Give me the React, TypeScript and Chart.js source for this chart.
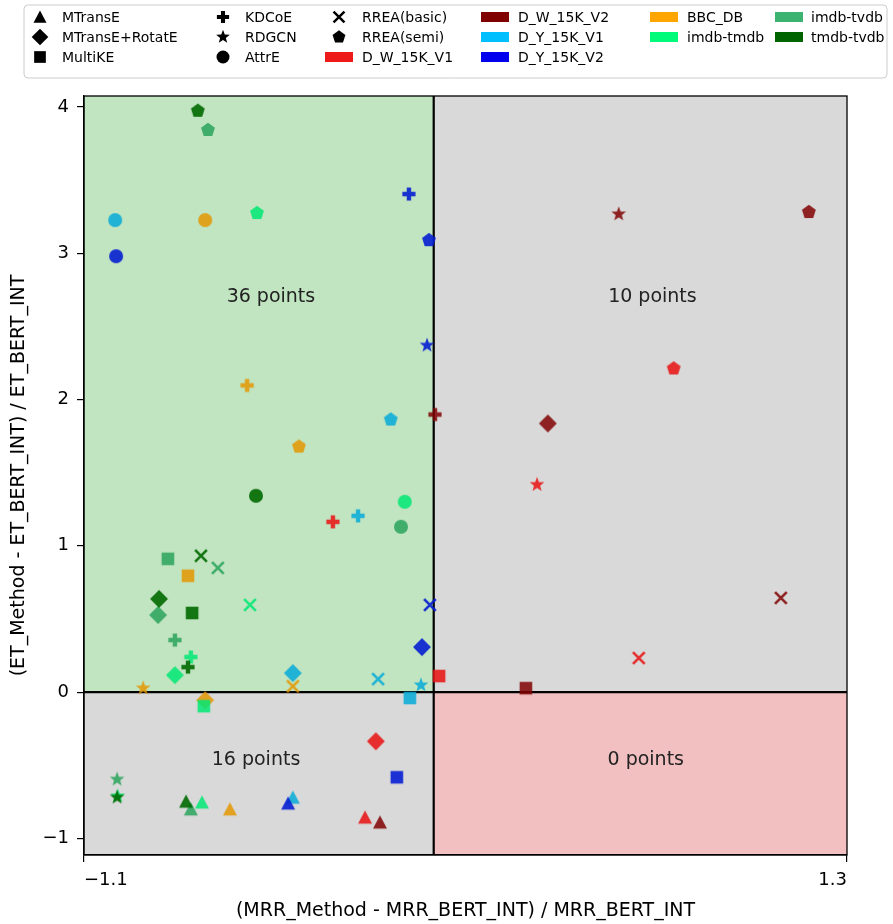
import { useEffect, useRef } from 'react';
import { Chart, registerables } from 'chart.js';

Chart.register(...registerables);

const FONT = 'DejaVu Sans';

const datasetNames = ['D_W_15K_V1', 'D_W_15K_V2', 'D_Y_15K_V1', 'D_Y_15K_V2', 'BBC_DB', 'imdb-tmdb', 'imdb-tvdb', 'tmdb-tvdb'];
const legendColors = ['#ee1a1a', '#800000', '#00bfff', '#0000ee', '#ffa500', '#00fa7a', '#3cb371', '#006400'];
const pointColors = [
	'rgba(232, 22, 22, 0.88)',
	'rgba(128, 0, 0, 0.85)',
	'rgba(10, 172, 215, 0.88)',
	'rgba(5, 30, 210, 0.9)',
	'rgba(228, 150, 0, 0.85)',
	'rgba(0, 232, 115, 0.85)',
	'rgba(45, 165, 95, 0.88)',
	'rgba(0, 105, 0, 0.9)',
];

const methodNames = ['MTransE', 'MTransE+RotatE', 'MultiKE', 'KDCoE', 'RDGCN', 'AttrE', 'RREA(basic)', 'RREA(semi)'];
const methodShapes = ['triangle', 'diamond', 'square', 'plus', 'star', 'circle', 'x', 'pentagon'];

// values per dataset, same order as datasetNames (null = no result)
const mtranseX = [-0.216, -0.169, -0.443, -0.458, -0.641, -0.729, -0.764, -0.779];
const mtranseY = [-0.856, -0.89, -0.72, -0.76, -0.8, -0.753, -0.8, -0.747];
const rotateX = [-0.182, 0.359, -0.443, -0.037, -0.719, -0.814, -0.867, -0.864];
const rotateY = [-0.336, 1.836, 0.13, 0.308, -0.055, 0.116, 0.527, 0.637];
const multikeX = [0.017, 0.29, -0.075, -0.116, -0.773, -0.723, -0.836, -0.76];
const multikeY = [0.11, 0.027, -0.04, -0.582, 0.795, -0.096, 0.911, 0.541];
const kdcoeX = [-0.317, 0.004, -0.238, -0.078, -0.587, -0.764, -0.814, -0.773];
const kdcoeY = [1.164, 1.897, 1.205, 3.404, 2.096, 0.24, 0.356, 0.171];
const rdgcnX = [0.325, 0.582, -0.04, -0.021, -0.914, -0.994, -0.996, -0.996];
const rdgcnY = [1.418, 3.267, 0.048, 2.37, 0.027, -0.71, -0.596, -0.719];
const attreX = [null, null, -1.002, -0.999, -0.719, -0.091, -0.103, -0.559];
const attreY = [null, null, 3.226, 2.979, 3.226, 1.301, 1.13, 1.342];
const rreaBasicX = [0.645, 1.092, -0.175, -0.012, -0.443, -0.578, -0.679, -0.732];
const rreaBasicY = [0.233, 0.644, 0.089, 0.596, 0.04, 0.596, 0.849, 0.932];
const rreaSemiX = [0.755, 1.18, -0.135, -0.015, -0.424, -0.556, -0.71, -0.742];
const rreaSemiY = [2.212, 3.281, 1.863, 3.089, 1.678, 3.274, 3.842, 3.973];

const seriesX = [mtranseX, rotateX, multikeX, kdcoeX, rdgcnX, attreX, rreaBasicX, rreaSemiX];
const seriesY = [mtranseY, rotateY, multikeY, kdcoeY, rdgcnY, attreY, rreaBasicY, rreaSemiY];

const xTicks = [-1.1, 1.3];
const yTicks = [-1, 0, 1, 2, 3, 4];

const quadrantText = ['36 points', '10 points', '16 points', '0 points'];
const quadrantX = [-0.512, 0.688, -0.559, 0.667];
const quadrantY = [2.7, 2.7, -0.465, -0.465];

const xTitle = '(MRR_Method - MRR_BERT_INT) / MRR_BERT_INT';
const yTitle = '(ET_Method - ET_BERT_INT) / ET_BERT_INT';

const fmt = (v: number) => (v < 0 ? '\u2212' + Math.abs(v) : String(v));

function drawShape(ctx: CanvasRenderingContext2D, shape: string, cx: number, cy: number, s: number, color: string) {
	const r = s / 2;
	ctx.fillStyle = color;
	ctx.strokeStyle = color;
	ctx.beginPath();
	if (shape === 'triangle') {
		ctx.moveTo(cx, cy - r);
		ctx.lineTo(cx + r, cy + r * 0.9);
		ctx.lineTo(cx - r, cy + r * 0.9);
		ctx.closePath();
		ctx.fill();
	} else if (shape === 'diamond') {
		const d = s * 0.64;
		ctx.moveTo(cx, cy - d);
		ctx.lineTo(cx + d, cy);
		ctx.lineTo(cx, cy + d);
		ctx.lineTo(cx - d, cy);
		ctx.closePath();
		ctx.fill();
	} else if (shape === 'square') {
		const h = s * 0.45;
		ctx.rect(cx - h, cy - h, 2 * h, 2 * h);
		ctx.fill();
	} else if (shape === 'plus') {
		const h = s * 0.47;
		const t = h / 3;
		ctx.rect(cx - h, cy - t, 2 * h, 2 * t);
		ctx.rect(cx - t, cy - h, 2 * t, 2 * h);
		ctx.fill('nonzero');
	} else if (shape === 'star') {
		const ro = s * 0.55;
		const ri = ro * 0.42;
		for (let i = 0; i < 10; i++) {
			const a = -Math.PI / 2 + (i * Math.PI) / 5;
			const rr = i % 2 === 0 ? ro : ri;
			const px = cx + rr * Math.cos(a);
			const py = cy + rr * Math.sin(a);
			if (i === 0) ctx.moveTo(px, py);
			else ctx.lineTo(px, py);
		}
		ctx.closePath();
		ctx.fill();
	} else if (shape === 'circle') {
		ctx.arc(cx, cy, r, 0, Math.PI * 2);
		ctx.fill();
	} else if (shape === 'x') {
		const h = s * 0.42;
		ctx.lineWidth = s * 0.19;
		ctx.moveTo(cx - h, cy - h);
		ctx.lineTo(cx + h, cy + h);
		ctx.moveTo(cx + h, cy - h);
		ctx.lineTo(cx - h, cy + h);
		ctx.stroke();
	} else if (shape === 'pentagon') {
		const ro = s * 0.52;
		for (let i = 0; i < 5; i++) {
			const a = -Math.PI / 2 + (i * 2 * Math.PI) / 5;
			const px = cx + ro * Math.cos(a);
			const py = cy + ro * Math.sin(a);
			if (i === 0) ctx.moveTo(px, py);
			else ctx.lineTo(px, py);
		}
		ctx.closePath();
		ctx.fill();
	}
}

function makeMarker(shape: string, color: string) {
	const c = document.createElement('canvas');
	c.width = 26;
	c.height = 26;
	const ctx = c.getContext('2d')!;
	drawShape(ctx, shape, 13, 13, 14, color);
	return c;
}

const quadrantPlugin = {
	id: 'quadrants',
	beforeDraw(chart: any) {
		const { ctx, chartArea: a, scales } = chart;
		const x0 = scales.x.getPixelForValue(0);
		const y0 = scales.y.getPixelForValue(0);
		ctx.save();
		ctx.fillStyle = '#c1e4c1';
		ctx.fillRect(a.left, a.top, x0 - a.left, y0 - a.top);
		ctx.fillStyle = '#d9d9d9';
		ctx.fillRect(x0, a.top, a.right - x0, y0 - a.top);
		ctx.fillRect(a.left, y0, x0 - a.left, a.bottom - y0);
		ctx.fillStyle = '#f2c0c1';
		ctx.fillRect(x0, y0, a.right - x0, a.bottom - y0);
		ctx.restore();
	},
	beforeDatasetsDraw(chart: any) {
		const { ctx, chartArea: a, scales } = chart;
		const x0 = scales.x.getPixelForValue(0);
		const y0 = scales.y.getPixelForValue(0);
		ctx.save();
		ctx.strokeStyle = '#000';
		ctx.lineWidth = 2.2;
		ctx.beginPath();
		ctx.moveTo(x0, a.top);
		ctx.lineTo(x0, a.bottom);
		ctx.moveTo(a.left, y0);
		ctx.lineTo(a.right, y0);
		ctx.stroke();
		ctx.restore();
	},
	afterDatasetsDraw(chart: any) {
		const { ctx, chartArea: a, scales } = chart;
		ctx.save();
		ctx.font = `19px "${FONT}"`;
		ctx.fillStyle = '#222';
		ctx.textAlign = 'center';
		ctx.textBaseline = 'middle';
		quadrantText.forEach((t, i) => {
			ctx.fillText(t, scales.x.getPixelForValue(quadrantX[i]), scales.y.getPixelForValue(quadrantY[i]));
		});
		ctx.strokeStyle = '#000';
		ctx.lineWidth = 1.3;
		ctx.strokeRect(a.left, a.top, a.right - a.left, a.bottom - a.top);
		ctx.restore();
	},
	afterDraw(chart: any) {
		const { ctx } = chart;
		ctx.save();
		// legend frame
		const bx = 24, by = 5, bw = 863, bh = 73, rad = 4;
		ctx.beginPath();
		ctx.moveTo(bx + rad, by);
		ctx.arcTo(bx + bw, by, bx + bw, by + bh, rad);
		ctx.arcTo(bx + bw, by + bh, bx, by + bh, rad);
		ctx.arcTo(bx, by + bh, bx, by, rad);
		ctx.arcTo(bx, by, bx + bw, by, rad);
		ctx.closePath();
		ctx.fillStyle = 'rgba(255,255,255,0.9)';
		ctx.fill();
		ctx.strokeStyle = '#cccccc';
		ctx.lineWidth = 1;
		ctx.stroke();

		const rowY = [17, 37, 57];
		const colHandle = [40, 223, 339, 495, 664, 789];
		const colLabel = [62, 245, 362, 518, 687, 811];
		// matplotlib fills 16 entries in 6 columns as 3,3,3,3,2,2
		const colSizes = [3, 3, 3, 3, 2, 2];
		type Entry = { label: string; shape?: string; color?: string };
		const entries: Entry[] = [
			...methodNames.map((m, i) => ({ label: m, shape: methodShapes[i] })),
			...datasetNames.map((d, i) => ({ label: d, color: legendColors[i] })),
		];
		ctx.font = `14px "${FONT}"`;
		ctx.textBaseline = 'middle';
		ctx.textAlign = 'left';
		let k = 0;
		colSizes.forEach((n, col) => {
			for (let row = 0; row < n; row++, k++) {
				const e = entries[k];
				const hx = colHandle[col];
				const hy = rowY[row];
				if (e.shape) {
					drawShape(ctx, e.shape, hx, hy, 13, '#000');
				} else if (e.color) {
					ctx.fillStyle = e.color;
					ctx.fillRect(hx - 14, hy - 5, 28, 10);
				}
				ctx.fillStyle = '#000';
				ctx.fillText(e.label, colLabel[col], hy + 1);
			}
		});
		ctx.restore();
	},
};

export default function App() {
	const canvasRef = useRef<HTMLCanvasElement>(null);
	const chartRef = useRef<Chart | null>(null);

	useEffect(() => {
		document.body.style.margin = '0';
		if (!canvasRef.current) return;
		if (chartRef.current) chartRef.current.destroy();

		const datasets = methodNames.map((name, i) => {
			const markers = pointColors.map((c) => makeMarker(methodShapes[i], c));
			const data = datasetNames
				.map((_, j) => ({ x: seriesX[i][j], y: seriesY[i][j], c: j }))
				.filter((p) => p.x !== null && p.y !== null);
			return {
				label: name,
				data,
				order: -i,
				pointRadius: 7,
				pointHoverRadius: 7,
				pointStyle: (ctx: any) => (ctx.raw ? markers[ctx.raw.c] : 'circle'),
				backgroundColor: 'rgba(0,0,0,0)',
				borderColor: 'rgba(0,0,0,0)',
			};
		});

		const tickFont = { family: FONT, size: 18 };
		const titleFont = { family: FONT, size: 19 };

		chartRef.current = new Chart(canvasRef.current, {
			type: 'scatter',
			data: { datasets: datasets as any },
			options: {
				animation: false,
				responsive: false,
				events: [],
				layout: { padding: { top: 96, right: 46, left: 0, bottom: 0 } },
				plugins: { legend: { display: false }, tooltip: { enabled: false } },
				scales: {
					x: {
						type: 'linear',
						min: -1.1,
						max: 1.3,
						afterBuildTicks: (s: any) => {
							s.ticks = xTicks.map((v) => ({ value: v }));
						},
						afterFit: (s: any) => {
							s.height = 69;
						},
						ticks: {
							align: 'inner',
							maxRotation: 0,
							font: tickFont,
							color: '#000',
							padding: 8,
							callback: (v: any) => fmt(Number(v)),
						},
						grid: { drawOnChartArea: false, drawTicks: true, tickLength: 7, color: '#000', lineWidth: 1.2 },
						border: { display: true, color: '#000', width: 1.3 },
						title: { display: true, text: xTitle, font: titleFont, color: '#000', padding: { top: 0, bottom: 2 } },
					},
					y: {
						type: 'linear',
						min: -1.113,
						max: 4.074,
						afterBuildTicks: (s: any) => {
							s.ticks = yTicks.map((v) => ({ value: v }));
						},
						afterFit: (s: any) => {
							s.width = 84;
						},
						ticks: { font: tickFont, color: '#000', padding: 8, callback: (v: any) => fmt(Number(v)) },
						grid: { drawOnChartArea: false, drawTicks: true, tickLength: 7, color: '#000', lineWidth: 1.2 },
						border: { display: true, color: '#000', width: 1.3 },
						title: { display: true, text: yTitle, font: titleFont, color: '#000', padding: { top: 8, bottom: 0 } },
					},
				},
			},
			plugins: [quadrantPlugin],
		});

		return () => {
			if (chartRef.current) {
				chartRef.current.destroy();
				chartRef.current = null;
			}
		};
	}, []);

	return (
		<div style={{ width: '893px', height: '924px', position: 'relative' }}>
			<canvas ref={canvasRef} width={893} height={924} style={{ display: 'block', width: '893px', height: '924px' }}></canvas>
		</div>
	);
}
